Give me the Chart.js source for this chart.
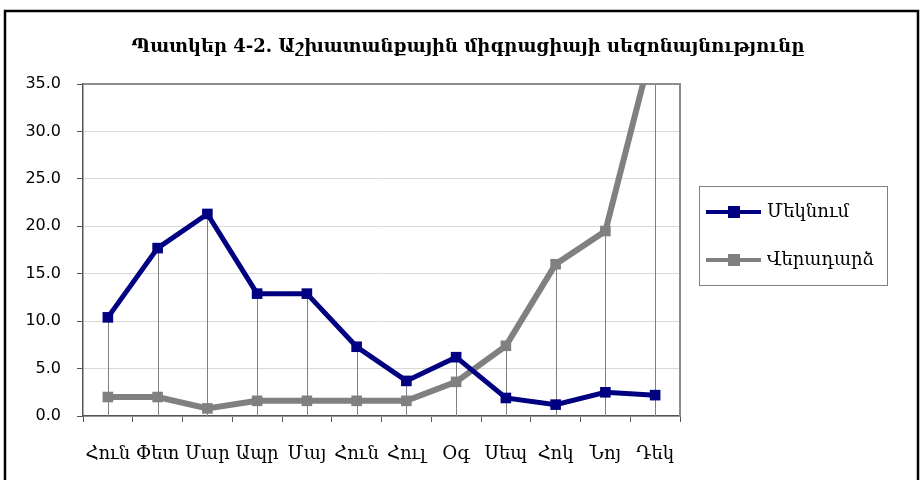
<!DOCTYPE html>
<html>
<head>
<meta charset="utf-8">
<script src="https://cdn.jsdelivr.net/npm/chart.js@4"></script>
<style>
  html, body { margin: 0; padding: 0; background: #fff; }
  #wrap { width: 922px; height: 480px; position: relative; }
</style>
</head>
<body>
<div id="wrap"><canvas id="migrationChart" width="922" height="480"></canvas></div>
<script>
// data
const months = ['Հուն', 'Փետ', 'Մար', 'Ապր', 'Մայ', 'Հուն', 'Հուլ', 'Օգ', 'Սեպ', 'Հոկ', 'Նոյ', 'Դեկ'];
const departures = [10.4, 17.7, 21.3, 12.9, 12.9, 7.3, 3.7, 6.2, 1.9, 1.2, 2.5, 2.2];
const returns = [2.0, 2.0, 0.8, 1.6, 1.6, 1.6, 1.6, 3.6, 7.4, 16.0, 19.5, 40.0];
const seriesNames = ['Մեկնում', 'Վերադարձ'];
const titleText = 'Պատկեր 4-2. Աշխատանքային միգրացիայի սեզոնայնությունը';

const armFont = "'DejaVu Serif', serif";
const numFont = "'DejaVu Sans', sans-serif";

// outer frame, title, plot border, drop lines and legend
const decorPlugin = {
    id: 'decor',
    beforeDraw(chart) {
        const ctx = chart.ctx;
        ctx.save();
        ctx.fillStyle = '#fff';
        ctx.fillRect(0, 0, chart.width, chart.height);
        ctx.strokeStyle = '#000';
        ctx.lineWidth = 2.5;
        ctx.strokeRect(5, 11, 913, 480);
        ctx.fillStyle = '#000';
        ctx.font = "bold 18px " + armFont;
        ctx.textAlign = 'center';
        ctx.textBaseline = 'middle';
        ctx.fillText(titleText, 468, 47);
        ctx.restore();
    },
    beforeDatasetsDraw(chart) {
        const ctx = chart.ctx;
        const a = chart.chartArea;
        const x = chart.scales.x, y = chart.scales.y;
        ctx.save();
        // drop lines
        ctx.strokeStyle = '#808080';
        ctx.lineWidth = 1;
        months.forEach((m, i) => {
            const top = Math.min(Math.max(departures[i], returns[i]), y.max);
            const px = Math.round(x.getPixelForValue(i)) + 0.5;
            ctx.beginPath();
            ctx.moveTo(px, y.getPixelForValue(top));
            ctx.lineTo(px, y.getPixelForValue(0));
            ctx.stroke();
        });
        // plot area border (top/right)
        ctx.strokeStyle = '#8c8c8c';
        ctx.lineWidth = 2;
        ctx.beginPath();
        ctx.moveTo(a.left, a.top);
        ctx.lineTo(a.right, a.top);
        ctx.lineTo(a.right, a.bottom);
        ctx.stroke();
        ctx.restore();
    },
    afterDraw(chart) {
        const ctx = chart.ctx;
        ctx.save();
        ctx.strokeStyle = '#808080';
        ctx.lineWidth = 1;
        ctx.strokeRect(699.5, 186.5, 188, 99);
        chart.data.datasets.forEach((ds, i) => {
            const ly = 212 + i * 48;
            ctx.strokeStyle = ds.borderColor;
            ctx.lineWidth = 4;
            ctx.beginPath();
            ctx.moveTo(706, ly);
            ctx.lineTo(761, ly);
            ctx.stroke();
            ctx.fillStyle = ds.backgroundColor;
            ctx.fillRect(728, ly - 6, 12, 12);
            ctx.fillStyle = '#000';
            ctx.font = "18px " + armFont;
            ctx.textAlign = 'left';
            ctx.textBaseline = 'middle';
            ctx.fillText(seriesNames[i], 767, ly);
        });
        ctx.restore();
    }
};

new Chart(document.getElementById('migrationChart'), {
    type: 'line',
    data: {
        labels: months,
        datasets: [
            {
                label: seriesNames[0],
                data: departures,
                borderColor: '#000080',
                backgroundColor: '#000080',
                borderWidth: 5,
                pointStyle: 'rect',
                pointRadius: 7.5,
                pointBorderWidth: 0,
                tension: 0,
                clip: 0
            },
            {
                label: seriesNames[1],
                data: returns,
                borderColor: '#808080',
                backgroundColor: '#808080',
                borderWidth: 6,
                pointStyle: 'rect',
                pointRadius: 7.5,
                pointBorderWidth: 0,
                tension: 0,
                clip: 0
            }
        ]
    },
    options: {
        responsive: false,
        animation: false,
        layout: { padding: { top: 84, right: 242, left: 0, bottom: 0 } },
        plugins: {
            legend: { display: false },
            title: { display: false },
            tooltip: { enabled: false }
        },
        scales: {
            x: {
                offset: true,
                grid: {
                    offset: true,
                    drawOnChartArea: false,
                    tickLength: 6,
                    color: '#555'
                },
                border: { color: '#555', width: 1.5 },
                ticks: {
                    color: '#000',
                    padding: 22,
                    maxRotation: 0,
                    autoSkip: false,
                    font: { family: armFont, size: 18 }
                },
                afterFit(scale) { scale.height = 64; }
            },
            y: {
                min: 0,
                max: 35,
                grid: {
                    color: '#d9d9d9',
                    tickColor: '#555',
                    tickLength: 6
                },
                border: { color: '#555', width: 1.5 },
                ticks: {
                    stepSize: 5,
                    color: '#000',
                    padding: 16,
                    font: { family: numFont, size: 16 },
                    callback: v => v.toFixed(1)
                },
                afterFit(scale) { scale.width = 83; }
            }
        }
    },
    plugins: [decorPlugin]
});
</script>
</body>
</html>
